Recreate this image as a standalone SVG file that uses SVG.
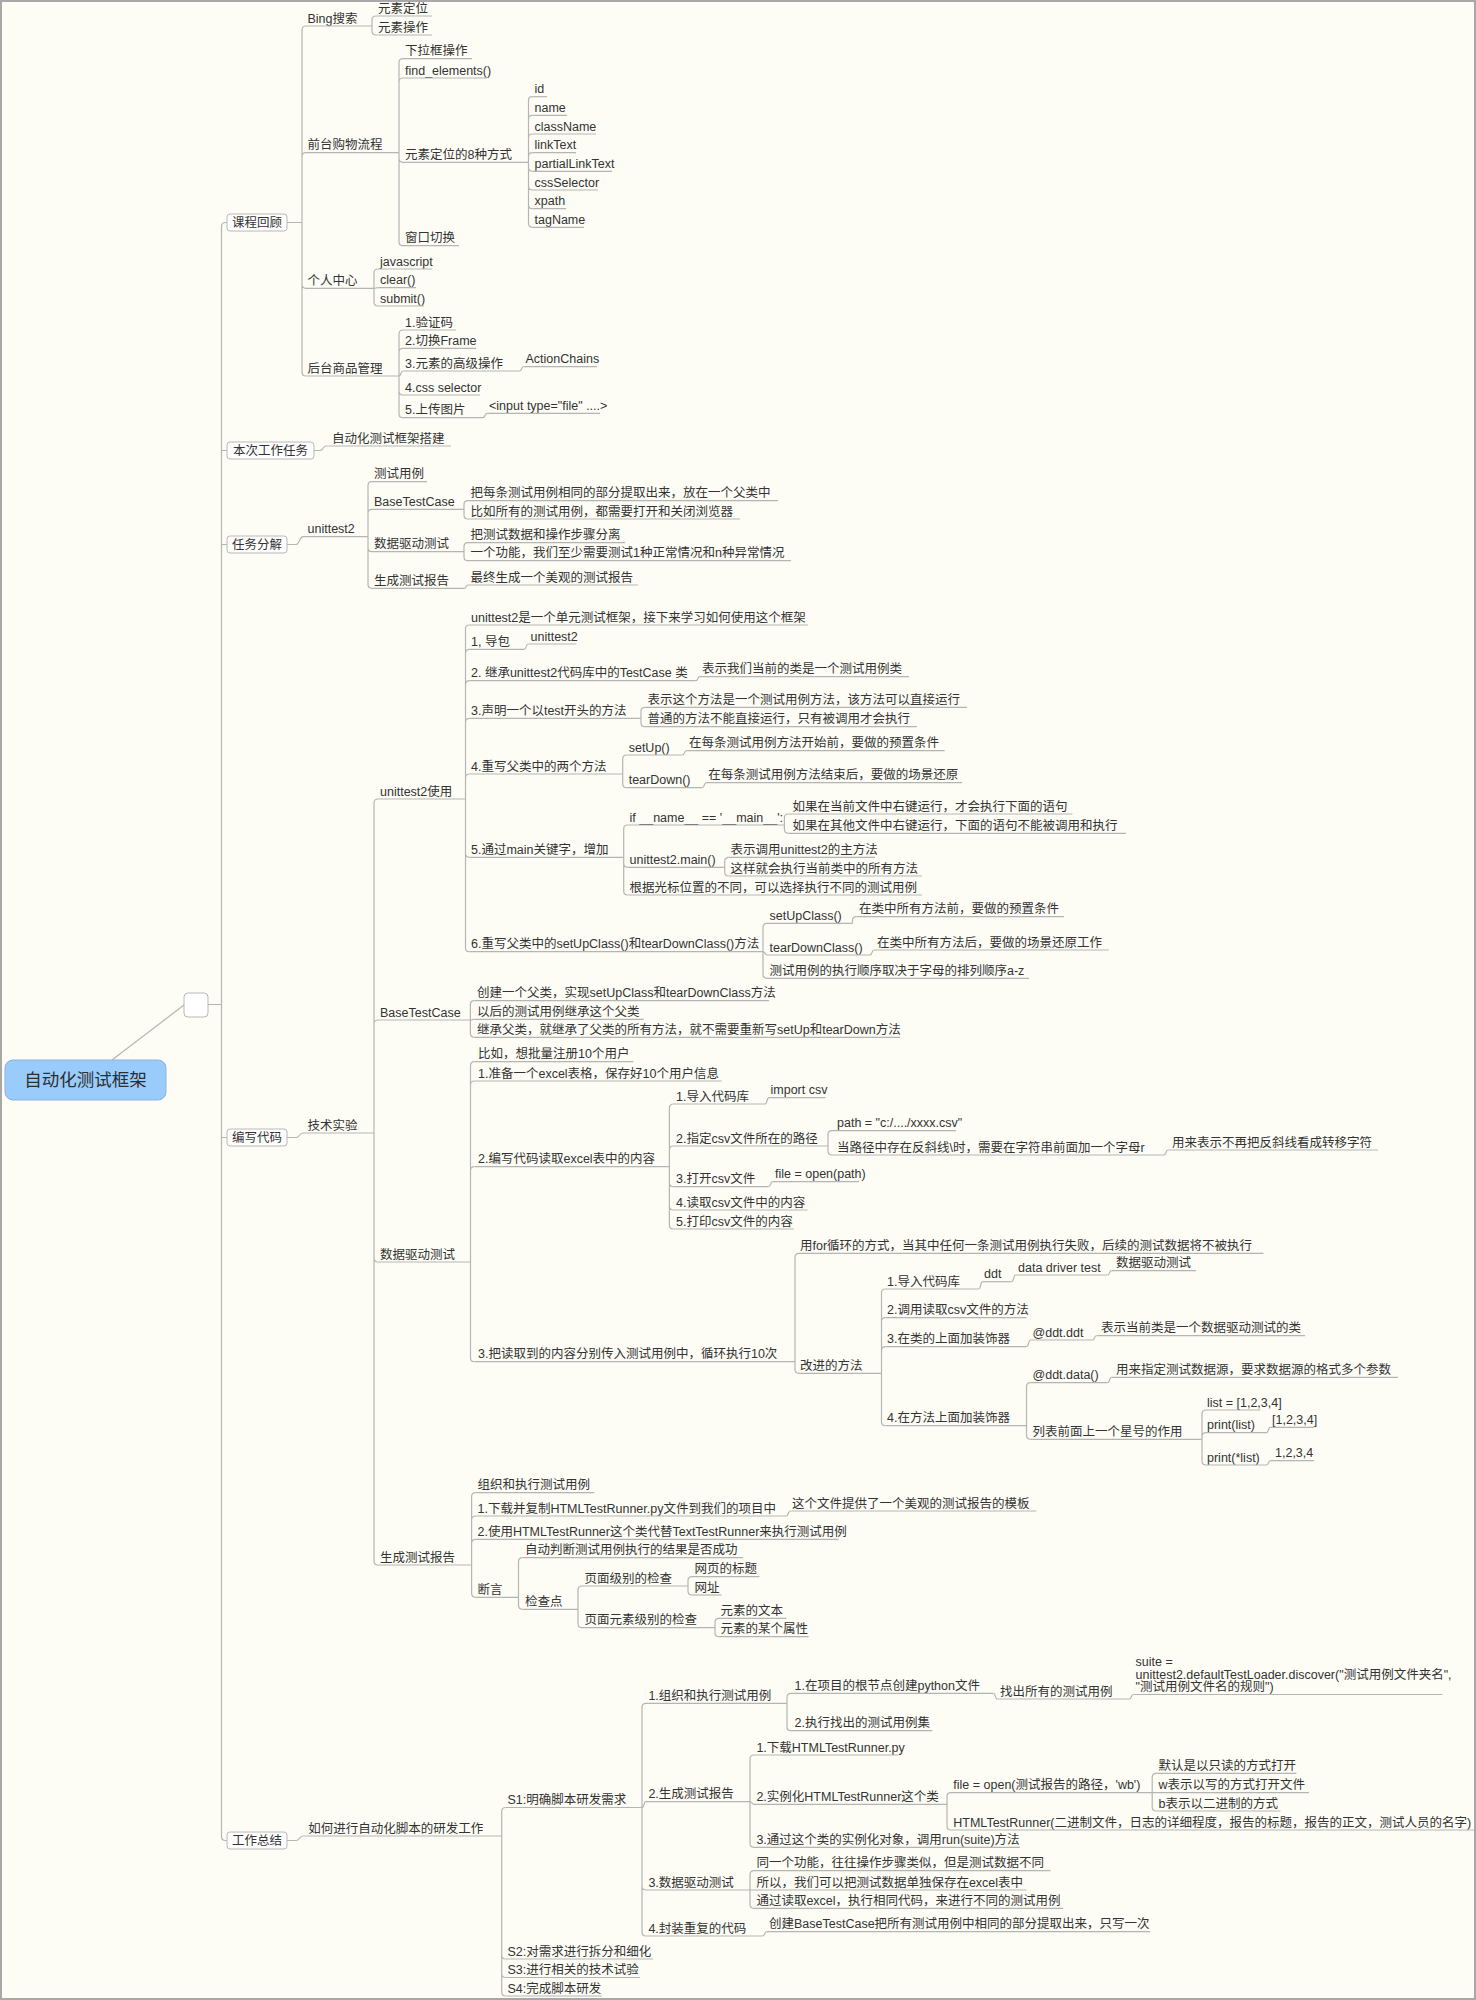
<svg xmlns="http://www.w3.org/2000/svg" width="1476" height="2000" viewBox="0 0 1476 2000">
<style>
text{font-family:"Liberation Sans","Noto Sans CJK SC",sans-serif;font-size:12.5px;fill:#333}
.n path,.c path{fill:none;stroke:#b5b5b5;stroke-width:1.2}
.box rect{fill:#fefefe;stroke:#b8b8b8;stroke-width:1}
.box text{text-anchor:middle}
</style>
<rect x="0" y="0" width="1476" height="2000" fill="#fdfdf6"/>
<rect x="1" y="1" width="1474" height="1998" fill="none" stroke="#a8a8a8" stroke-width="2"/>

<g class="c" id="connectors">
<path d="M112 1060L184 1005M208 1004.5H221.5"/>
<path d="M227 222.5H225.5Q221.5 222.5 221.5 226.5V1836.5Q221.5 1840.5 225.5 1840.5H227M221.5 450.5H227M221.5 544.5H227M221.5 1137.5H227"/>
<path d="M287 222.5H302M302 222.5V30Q302 26 306 26M302 222.5V156.7Q302 152.7 306 152.7M302 222.5V284.3Q302 288.3 306 288.3M302 222.5V372Q302 376 306 376"/>
<path d="M372 26V20Q372 16 376 16M372 26V31Q372 35 376 35"/>
<path d="M399 152.7V62.7Q399 58.7 403 58.7M399 152.7V82Q399 78 403 78M399 152.7V158.3Q399 162.3 403 162.3M399 152.7V241.7Q399 245.7 403 245.7"/>
<path d="M528.5 162.3V100.7Q528.5 96.7 532.5 96.7M528.5 162.3V119.3Q528.5 115.3 532.5 115.3M528.5 162.3V138Q528.5 134 532.5 134M528.5 162.3V156.7Q528.5 152.7 532.5 152.7M528.5 162.3V167.3Q528.5 171.3 532.5 171.3M528.5 162.3V186Q528.5 190 532.5 190M528.5 162.3V204.7Q528.5 208.7 532.5 208.7M528.5 162.3V223.3Q528.5 227.3 532.5 227.3"/>
<path d="M374 288.3V273Q374 269 378 269M374 288.3C376 288.3 376 287.7 378 287.7M374 288.3V302Q374 306 378 306"/>
<path d="M399 376V334Q399 330 403 330M399 376V352.3Q399 348.3 403 348.3M399 376C401.5 376 400.5 371 403 371M399 376V391Q399 395 403 395M399 376V413.7Q399 417.7 403 417.7"/>
<path d="M519.5 371C522 371 521 366.7 523.5 366.7M483 417.7C485.5 417.7 484.5 413.3 487 413.3"/>
<path d="M314 450.5H320C324 450.5 322 446 326 446"/>
<path d="M287 544.5H296C300 544.5 299 536.7 303 536.7"/>
<path d="M368 536.7V485.7Q368 481.7 372 481.7M368 536.7V513.3Q368 509.3 372 509.3M368 536.7V547.7Q368 551.7 372 551.7M368 536.7V584.3Q368 588.3 372 588.3"/>
<path d="M464 509.3V504.7Q464 500.7 468 500.7M464 509.3V515Q464 519 468 519M464 551.7V546.7Q464 542.7 468 542.7M464 551.7V556.7Q464 560.7 468 560.7M464 588.3C466.5 588.3 465.5 585 468 585"/>
<path d="M287 1137.5H296C300 1137.5 299 1133 303 1133"/>
<path d="M374 1133V803Q374 799 378 799M374 1133V1024Q374 1020 378 1020M374 1133V1258Q374 1262 378 1262M374 1133V1561Q374 1565 378 1565"/>
<path d="M465.5 799V629Q465.5 625 469.5 625M465.5 799V653.3Q465.5 649.3 469.5 649.3M465.5 799V684.7Q465.5 680.7 469.5 680.7M465.5 799V722.3Q465.5 718.3 469.5 718.3M465.5 799V778Q465.5 774 469.5 774M465.5 799V853.3Q465.5 857.3 469.5 857.3M465.5 799V947.7Q465.5 951.7 469.5 951.7"/>
<path d="M524.2 649.3C526.7 649.3 525.7 644 528.2 644M695.8 680.7C698.3 680.7 697.3 676.7 699.8 676.7"/>
<path d="M641 718.3V711.3Q641 707.3 645 707.3M641 718.3V722.7Q641 726.7 645 726.7"/>
<path d="M622.7 774V759Q622.7 755 626.7 755M622.7 774V783.7Q622.7 787.7 626.7 787.7M682.4 755C684.9 755 683.9 750.7 686.4 750.7M702.3 787.7C704.8 787.7 703.8 782.7 706.3 782.7"/>
<path d="M623.7 857.3V829Q623.7 825 627.7 825M623.7 857.3V863.3Q623.7 867.3 627.7 867.3M623.7 857.3V891Q623.7 895 627.7 895"/>
<path d="M784.4 825V818Q784.4 814 788.4 814M784.4 825V829.3Q784.4 833.3 788.4 833.3M724.7 867.3V861.3Q724.7 857.3 728.7 857.3M724.7 867.3V872Q724.7 876 728.7 876"/>
<path d="M763 951.7V927.3Q763 923.3 767 923.3M763 951.7C765.5 951.7 764.5 955 767 955M763 951.7V974.3Q763 978.3 767 978.3M852.5 923.3V920.7Q852.5 916.7 856.5 916.7M870 955C872.5 955 871.5 950 874 950"/>
<path d="M470.4 1020V1004.7Q470.4 1000.7 474.4 1000.7M470.4 1020C472.4 1020 472.4 1019.3 474.4 1019.3M470.4 1020V1033.3Q470.4 1037.3 474.4 1037.3"/>
<path d="M470.5 1262V1065.7Q470.5 1061.7 474.5 1061.7M470.5 1262V1085Q470.5 1081 474.5 1081M470.5 1262V1170.7Q470.5 1166.7 474.5 1166.7M470.5 1262V1357.7Q470.5 1361.7 474.5 1361.7"/>
<path d="M669.4 1166.7V1108Q669.4 1104 673.4 1104M669.4 1166.7V1150Q669.4 1146 673.4 1146M669.4 1166.7V1182.7Q669.4 1186.7 673.4 1186.7M669.4 1166.7V1206Q669.4 1210 673.4 1210M669.4 1166.7V1225Q669.4 1229 673.4 1229"/>
<path d="M765 1104C767.5 1104 766.5 1097.7 769 1097.7M828 1146V1134.7Q828 1130.7 832 1130.7M828 1146V1151Q828 1155 832 1155M1164 1155C1166.5 1155 1165.5 1150 1168 1150M768.6 1186.7C771.1 1186.7 770.1 1181.7 772.6 1181.7"/>
<path d="M795 1361.7V1257.3Q795 1253.3 799 1253.3M795 1361.7V1369.3Q795 1373.3 799 1373.3"/>
<path d="M881.5 1373.3V1293Q881.5 1289 885.5 1289M881.5 1373.3V1321.7Q881.5 1317.7 885.5 1317.7M881.5 1373.3V1350.7Q881.5 1346.7 885.5 1346.7M881.5 1373.3V1421.7Q881.5 1425.7 885.5 1425.7"/>
<path d="M978.6 1289C981.1 1289 980.1 1281.7 982.6 1281.7M1011.6 1281.7C1014.1 1281.7 1013.1 1275 1015.6 1275M1107.5 1275C1110 1275 1109 1270.7 1111.5 1270.7M1026.5 1346.7C1029 1346.7 1028 1340 1030.5 1340M1092.5 1340C1095 1340 1094 1335.7 1096.5 1335.7"/>
<path d="M1026.5 1425.7V1386.7Q1026.5 1382.7 1030.5 1382.7M1026.5 1425.7V1435.3Q1026.5 1439.3 1030.5 1439.3M1107.5 1382.7C1110 1382.7 1109 1377.3 1111.5 1377.3"/>
<path d="M1202 1439.3V1414Q1202 1410 1206 1410M1202 1439.3V1436.7Q1202 1432.7 1206 1432.7M1202 1439.3V1461Q1202 1465 1206 1465M1266.4 1432.7C1268.9 1432.7 1267.9 1427.3 1270.4 1427.3M1266.4 1465C1268.9 1465 1267.9 1460.7 1270.4 1460.7"/>
<path d="M471.6 1565V1496.7Q471.6 1492.7 475.6 1492.7M471.6 1565V1520Q471.6 1516 475.6 1516M471.6 1565V1543.3Q471.6 1539.3 475.6 1539.3M471.6 1565V1593.3Q471.6 1597.3 475.6 1597.3M786.3 1516C788.8 1516 787.8 1511 790.3 1511"/>
<path d="M518.5 1597.3V1561.7Q518.5 1557.7 522.5 1557.7M518.5 1597.3V1605.3Q518.5 1609.3 522.5 1609.3M578 1609.3V1590Q578 1586 582 1586M578 1609.3V1623.7Q578 1627.7 582 1627.7"/>
<path d="M688 1586V1580.7Q688 1576.7 692 1576.7M688 1586V1591Q688 1595 692 1595M715 1627.7V1622.3Q715 1618.3 719 1618.3M715 1627.7V1632.7Q715 1636.7 719 1636.7"/>
<path d="M287 1840.5H296C300 1840.5 299 1836 303 1836"/>
<path d="M501.7 1836V1811.5Q501.7 1807.5 505.7 1807.5M501.7 1836V1955Q501.7 1959 505.7 1959M501.7 1836V1973.5Q501.7 1977.5 505.7 1977.5M501.7 1836V1992Q501.7 1996 505.7 1996"/>
<path d="M642 1807.5V1707.3Q642 1703.3 646 1703.3M642 1807.5C644.5 1807.5 643.5 1801.7 646 1801.7M642 1807.5V1886Q642 1890 646 1890M642 1807.5V1932Q642 1936 646 1936"/>
<path d="M787 1703.3V1697.3Q787 1693.3 791 1693.3M787 1703.3V1726.7Q787 1730.7 791 1730.7M993.3 1693.3C995.8 1693.3 994.8 1699 997.3 1699M1129.3 1699C1131.8 1699 1130.8 1694.5 1133.3 1694.5"/>
<path d="M750 1801.7V1759Q750 1755 754 1755M750 1801.7C752 1801.7 752 1804.3 754 1804.3M750 1801.7V1843.3Q750 1847.3 754 1847.3"/>
<path d="M947 1804.3V1796.7Q947 1792.7 951 1792.7M947 1804.3V1826Q947 1830 951 1830M1152.2 1792.7V1777.3Q1152.2 1773.3 1156.2 1773.3M1152.2 1792.7H1156.2M1152.2 1792.7V1807Q1152.2 1811 1156.2 1811"/>
<path d="M750 1890V1874.7Q750 1870.7 754 1870.7M750 1890H754M750 1890V1904.3Q750 1908.3 754 1908.3M762.7 1936C765.2 1936 764.2 1931.7 766.7 1931.7"/>
</g>

<g id="root"><rect x="5" y="1060" width="161" height="40" rx="8" fill="#99ccfb" stroke="#8ab3dc"/><text x="85.5" y="1086" text-anchor="middle" style="font-size:17.5px;fill:#2e2e2e">自动化测试框架</text></g>
<g id="hub"><rect x="184" y="993" width="24" height="24" rx="4" fill="#fff" stroke="#b8b8b8"/></g>

<g id="b1" class="box"><rect x="227" y="214" width="60" height="17" rx="3"/><text x="257" y="227">课程回顾</text></g>
<g id="b2" class="box"><rect x="227" y="442" width="87" height="17" rx="3"/><text x="270.5" y="455">本次工作任务</text></g>
<g id="b3" class="box"><rect x="227" y="536" width="60" height="17" rx="3"/><text x="257" y="549">任务分解</text></g>
<g id="b4" class="box"><rect x="227" y="1129" width="60" height="17" rx="3"/><text x="257" y="1142">编写代码</text></g>
<g id="b5" class="box"><rect x="227" y="1832" width="60" height="17" rx="3"/><text x="257" y="1845">工作总结</text></g>

<g id="n001" class="n"><text x="307.5" y="22.5">Bing搜索</text><path d="M306 26H372"/></g>
<g id="n002" class="n"><text x="307.5" y="149.2">前台购物流程</text><path d="M306 152.7H399"/></g>
<g id="n003" class="n"><text x="307.5" y="284.8">个人中心</text><path d="M306 288.3H374"/></g>
<g id="n004" class="n"><text x="307.5" y="372.5">后台商品管理</text><path d="M306 376H399"/></g>
<g id="n005" class="n"><text x="378" y="12.5">元素定位</text><path d="M376 16H432"/></g>
<g id="n006" class="n"><text x="378" y="31.5">元素操作</text><path d="M376 35H432"/></g>
<g id="n007" class="n"><text x="405" y="55.2">下拉框操作</text><path d="M403 58.7H472"/></g>
<g id="n008" class="n"><text x="405" y="74.5">find_elements()</text><path d="M403 78H487"/></g>
<g id="n009" class="n"><text x="405" y="158.8">元素定位的8种方式</text><path d="M403 162.3H528.5"/></g>
<g id="n010" class="n"><text x="405" y="242.2">窗口切换</text><path d="M403 245.7H459"/></g>
<g id="n011" class="n"><text x="534.5" y="93.2">id</text><path d="M532.5 96.7H547"/></g>
<g id="n012" class="n"><text x="534.5" y="111.8">name</text><path d="M532.5 115.3H567"/></g>
<g id="n013" class="n"><text x="534.5" y="130.5">className</text><path d="M532.5 134H596"/></g>
<g id="n014" class="n"><text x="534.5" y="149.2">linkText</text><path d="M532.5 152.7H576"/></g>
<g id="n015" class="n"><text x="534.5" y="167.8">partialLinkText</text><path d="M532.5 171.3H612"/></g>
<g id="n016" class="n"><text x="534.5" y="186.5">cssSelector</text><path d="M532.5 190H598"/></g>
<g id="n017" class="n"><text x="534.5" y="205.2">xpath</text><path d="M532.5 208.7H566"/></g>
<g id="n018" class="n"><text x="534.5" y="223.8">tagName</text><path d="M532.5 227.3H584"/></g>
<g id="n019" class="n"><text x="380" y="265.5">javascript</text><path d="M378 269H432"/></g>
<g id="n020" class="n"><text x="380" y="284.2">clear()</text><path d="M378 287.7H416"/></g>
<g id="n021" class="n"><text x="380" y="302.5">submit()</text><path d="M378 306H424"/></g>
<g id="n022" class="n"><text x="405" y="326.5">1.验证码</text><path d="M403 330H456"/></g>
<g id="n023" class="n"><text x="405" y="344.8">2.切换Frame</text><path d="M403 348.3H476"/></g>
<g id="n024" class="n"><text x="405" y="367.5">3.元素的高级操作</text><path d="M403 371H519.5"/></g>
<g id="n025" class="n"><text x="405" y="391.5">4.css selector</text><path d="M403 395H480"/></g>
<g id="n026" class="n"><text x="405" y="414.2">5.上传图片</text><path d="M403 417.7H483"/></g>
<g id="n027" class="n"><text x="525.5" y="363.2">ActionChains</text><path d="M523.5 366.7H597"/></g>
<g id="n028" class="n"><text x="489" y="409.8">&lt;input type="file" ....&gt;</text><path d="M487 413.3H600"/></g>

<g id="n029" class="n"><text x="332" y="442.5">自动化测试框架搭建</text><path d="M326 446H451"/></g>

<g id="n030" class="n"><text x="307.5" y="533.2">unittest2</text><path d="M303 536.7H368"/></g>
<g id="n031" class="n"><text x="374" y="478.2">测试用例</text><path d="M372 481.7H427"/></g>
<g id="n032" class="n"><text x="374" y="505.8">BaseTestCase</text><path d="M372 509.3H464"/></g>
<g id="n033" class="n"><text x="374" y="548.2">数据驱动测试</text><path d="M372 551.7H464"/></g>
<g id="n034" class="n"><text x="374" y="584.8">生成测试报告</text><path d="M372 588.3H464"/></g>
<g id="n035" class="n"><text x="470.5" y="497.2">把每条测试用例相同的部分提取出来，放在一个父类中</text><path d="M468 500.7H778"/></g>
<g id="n036" class="n"><text x="470.5" y="515.5">比如所有的测试用例，都需要打开和关闭浏览器</text><path d="M468 519H740"/></g>
<g id="n037" class="n"><text x="470.5" y="539.2">把测试数据和操作步骤分离</text><path d="M468 542.7H625"/></g>
<g id="n038" class="n"><text x="470.5" y="557.2">一个功能，我们至少需要测试1种正常情况和n种异常情况</text><path d="M468 560.7H791"/></g>
<g id="n039" class="n"><text x="470.5" y="581.5">最终生成一个美观的测试报告</text><path d="M468 585H638"/></g>

<g id="n040" class="n"><text x="307.5" y="1129.5">技术实验</text><path d="M303 1133H374"/></g>
<g id="n041" class="n"><text x="380" y="795.5">unittest2使用</text><path d="M378 799H465.5"/></g>
<g id="n042" class="n"><text x="380" y="1016.5">BaseTestCase</text><path d="M378 1020H470.4"/></g>
<g id="n043" class="n"><text x="380" y="1258.5">数据驱动测试</text><path d="M378 1262H470.5"/></g>
<g id="n044" class="n"><text x="380" y="1561.5">生成测试报告</text><path d="M378 1565H471.6"/></g>

<g id="n045" class="n"><text x="471" y="621.5">unittest2是一个单元测试框架，接下来学习如何使用这个框架</text><path d="M469.5 625H808"/></g>
<g id="n046" class="n"><text x="471" y="645.8">1, 导包</text><path d="M469.5 649.3H524.2"/></g>
<g id="n047" class="n"><text x="471" y="677.2">2. 继承unittest2代码库中的TestCase 类</text><path d="M469.5 680.7H695.8"/></g>
<g id="n048" class="n"><text x="471" y="714.8">3.声明一个以test开头的方法</text><path d="M469.5 718.3H641"/></g>
<g id="n049" class="n"><text x="471" y="770.5">4.重写父类中的两个方法</text><path d="M469.5 774H622.7"/></g>
<g id="n050" class="n"><text x="471" y="853.8">5.通过main关键字，增加</text><path d="M469.5 857.3H623.7"/></g>
<g id="n051" class="n"><text x="471" y="948.2">6.重写父类中的setUpClass()和tearDownClass()方法</text><path d="M469.5 951.7H763"/></g>
<g id="n052" class="n"><text x="530.5" y="640.5">unittest2</text><path d="M528.2 644H576.4"/></g>
<g id="n053" class="n"><text x="702" y="673.2">表示我们当前的类是一个测试用例类</text><path d="M699.8 676.7H909"/></g>
<g id="n054" class="n"><text x="647.5" y="703.8">表示这个方法是一个测试用例方法，该方法可以直接运行</text><path d="M645 707.3H967"/></g>
<g id="n055" class="n"><text x="647.5" y="723.2">普通的方法不能直接运行，只有被调用才会执行</text><path d="M645 726.7H917"/></g>
<g id="n056" class="n"><text x="628.7" y="751.5">setUp()</text><path d="M626.7 755H682.4"/></g>
<g id="n057" class="n"><text x="628.7" y="784.2">tearDown()</text><path d="M626.7 787.7H702.3"/></g>
<g id="n058" class="n"><text x="689" y="747.2">在每条测试用例方法开始前，要做的预置条件</text><path d="M686.4 750.7H944.6"/></g>
<g id="n059" class="n"><text x="708.3" y="779.2">在每条测试用例方法结束后，要做的场景还原</text><path d="M706.3 782.7H962"/></g>
<g id="n060" class="n"><text x="629.5" y="821.5">if __name__ == '__main__':</text><path d="M627.7 825H784.4"/></g>
<g id="n061" class="n"><text x="629.5" y="863.8">unittest2.main()</text><path d="M627.7 867.3H724.7"/></g>
<g id="n062" class="n"><text x="629.5" y="891.5">根据光标位置的不同，可以选择执行不同的测试用例</text><path d="M627.7 895H922"/></g>
<g id="n063" class="n"><text x="792.5" y="810.5">如果在当前文件中右键运行，才会执行下面的语句</text><path d="M788.4 814H1072.4"/></g>
<g id="n064" class="n"><text x="792.5" y="829.8">如果在其他文件中右键运行，下面的语句不能被调用和执行</text><path d="M788.4 833.3H1126"/></g>
<g id="n065" class="n"><text x="730.5" y="853.8">表示调用unittest2的主方法</text><path d="M728.7 857.3H875"/></g>
<g id="n066" class="n"><text x="730.5" y="872.5">这样就会执行当前类中的所有方法</text><path d="M728.7 876H922"/></g>
<g id="n067" class="n"><text x="769.5" y="919.8">setUpClass()</text><path d="M767 923.3H852.5"/></g>
<g id="n068" class="n"><text x="769.5" y="951.5">tearDownClass()</text><path d="M767 955H870"/></g>
<g id="n069" class="n"><text x="769.5" y="974.8">测试用例的执行顺序取决于字母的排列顺序a-z</text><path d="M767 978.3H1029"/></g>
<g id="n070" class="n"><text x="859" y="913.2">在类中所有方法前，要做的预置条件</text><path d="M856.5 916.7H1064"/></g>
<g id="n071" class="n"><text x="877" y="946.5">在类中所有方法后，要做的场景还原工作</text><path d="M874 950H1108.7"/></g>

<g id="n072" class="n"><text x="477" y="997.2">创建一个父类，实现setUpClass和tearDownClass方法</text><path d="M474.4 1000.7H769"/></g>
<g id="n073" class="n"><text x="477" y="1015.8">以后的测试用例继承这个父类</text><path d="M474.4 1019.3H643.6"/></g>
<g id="n074" class="n"><text x="477" y="1033.8">继承父类，就继承了父类的所有方法，就不需要重新写setUp和tearDown方法</text><path d="M474.4 1037.3H900"/></g>

<g id="n075" class="n"><text x="478" y="1058.2">比如，想批量注册10个用户</text><path d="M474.5 1061.7H633.3"/></g>
<g id="n076" class="n"><text x="478" y="1077.5">1.准备一个excel表格，保存好10个用户信息</text><path d="M474.5 1081H721.7"/></g>
<g id="n077" class="n"><text x="478" y="1163.2">2.编写代码读取excel表中的内容</text><path d="M474.5 1166.7H669.4"/></g>
<g id="n078" class="n"><text x="478" y="1358.2">3.把读取到的内容分别传入测试用例中，循环执行10次</text><path d="M474.5 1361.7H795"/></g>
<g id="n079" class="n"><text x="676" y="1100.5">1.导入代码库</text><path d="M673.4 1104H765"/></g>
<g id="n080" class="n"><text x="676" y="1142.5">2.指定csv文件所在的路径</text><path d="M673.4 1146H828"/></g>
<g id="n081" class="n"><text x="676" y="1183.2">3.打开csv文件</text><path d="M673.4 1186.7H768.6"/></g>
<g id="n082" class="n"><text x="676" y="1206.5">4.读取csv文件中的内容</text><path d="M673.4 1210H807.4"/></g>
<g id="n083" class="n"><text x="676" y="1225.5">5.打印csv文件的内容</text><path d="M673.4 1229H794"/></g>
<g id="n084" class="n"><text x="770.5" y="1094.2">import csv</text><path d="M769 1097.7H825.5"/></g>
<g id="n085" class="n"><text x="837" y="1127.2">path = "c:/..../xxxx.csv"</text><path d="M832 1130.7H956"/></g>
<g id="n086" class="n"><text x="837" y="1151.5">当路径中存在反斜线\时，需要在字符串前面加一个字母r</text><path d="M832 1155H1164"/></g>
<g id="n087" class="n"><text x="1172" y="1146.5">用来表示不再把反斜线看成转移字符</text><path d="M1168 1150H1378"/></g>
<g id="n088" class="n"><text x="775" y="1178.2">file = open(path)</text><path d="M772.6 1181.7H859"/></g>
<g id="n089" class="n"><text x="800" y="1249.8">用for循环的方式，当其中任何一条测试用例执行失败，后续的测试数据将不被执行</text><path d="M799 1253.3H1263.4"/></g>
<g id="n090" class="n"><text x="800" y="1369.8">改进的方法</text><path d="M799 1373.3H881.5"/></g>
<g id="n091" class="n"><text x="887" y="1285.5">1.导入代码库</text><path d="M885.5 1289H978.6"/></g>
<g id="n092" class="n"><text x="887" y="1314.2">2.调用读取csv文件的方法</text><path d="M885.5 1317.7H1026.5"/></g>
<g id="n093" class="n"><text x="887" y="1343.2">3.在类的上面加装饰器</text><path d="M885.5 1346.7H1026.5"/></g>
<g id="n094" class="n"><text x="887" y="1422.2">4.在方法上面加装饰器</text><path d="M885.5 1425.7H1026.5"/></g>
<g id="n095" class="n"><text x="984" y="1278.2">ddt</text><path d="M982.6 1281.7H1011.6"/></g>
<g id="n096" class="n"><text x="1018" y="1271.5">data driver test</text><path d="M1015.6 1275H1107.5"/></g>
<g id="n097" class="n"><text x="1116" y="1267.2">数据驱动测试</text><path d="M1111.5 1270.7H1196"/></g>
<g id="n098" class="n"><text x="1032.5" y="1336.5">@ddt.ddt</text><path d="M1030.5 1340H1092.5"/></g>
<g id="n099" class="n"><text x="1101" y="1332.2">表示当前类是一个数据驱动测试的类</text><path d="M1096.5 1335.7H1305"/></g>
<g id="n100" class="n"><text x="1032.5" y="1379.2">@ddt.data()</text><path d="M1030.5 1382.7H1107.5"/></g>
<g id="n101" class="n"><text x="1116" y="1373.8">用来指定测试数据源，要求数据源的格式多个参数</text><path d="M1111.5 1377.3H1398"/></g>
<g id="n102" class="n"><text x="1032.5" y="1435.8">列表前面上一个星号的作用</text><path d="M1030.5 1439.3H1202"/></g>
<g id="n103" class="n"><text x="1207" y="1406.5">list = [1,2,3,4]</text><path d="M1206 1410H1260.4"/></g>
<g id="n104" class="n"><text x="1207" y="1429.2">print(list)</text><path d="M1206 1432.7H1266.4"/></g>
<g id="n105" class="n"><text x="1207" y="1461.5">print(*list)</text><path d="M1206 1465H1266.4"/></g>
<g id="n106" class="n"><text x="1272" y="1423.8">[1,2,3,4]</text><path d="M1270.4 1427.3H1314"/></g>
<g id="n107" class="n"><text x="1275" y="1457.2">1,2,3,4</text><path d="M1270.4 1460.7H1314"/></g>

<g id="n108" class="n"><text x="477.5" y="1489.2">组织和执行测试用例</text><path d="M475.6 1492.7H594.4"/></g>
<g id="n109" class="n"><text x="477.5" y="1512.5">1.下载并复制HTMLTestRunner.py文件到我们的项目中</text><path d="M475.6 1516H786.3"/></g>
<g id="n110" class="n"><text x="477.5" y="1535.8">2.使用HTMLTestRunner这个类代替TextTestRunner来执行测试用例</text><path d="M475.6 1539.3H838.6"/></g>
<g id="n111" class="n"><text x="477.5" y="1593.8">断言</text><path d="M475.6 1597.3H518.5"/></g>
<g id="n112" class="n"><text x="792" y="1507.5">这个文件提供了一个美观的测试报告的模板</text><path d="M790.3 1511H1036.3"/></g>
<g id="n113" class="n"><text x="525" y="1554.2">自动判断测试用例执行的结果是否成功</text><path d="M522.5 1557.7H743"/></g>
<g id="n114" class="n"><text x="525" y="1605.8">检查点</text><path d="M522.5 1609.3H578"/></g>
<g id="n115" class="n"><text x="584.5" y="1582.5">页面级别的检查</text><path d="M582 1586H688"/></g>
<g id="n116" class="n"><text x="584.5" y="1624.2">页面元素级别的检查</text><path d="M582 1627.7H715"/></g>
<g id="n117" class="n"><text x="694.5" y="1573.2">网页的标题</text><path d="M692 1576.7H759.5"/></g>
<g id="n118" class="n"><text x="694.5" y="1591.5">网址</text><path d="M692 1595H721.6"/></g>
<g id="n119" class="n"><text x="720.5" y="1614.8">元素的文本</text><path d="M719 1618.3H786.3"/></g>
<g id="n120" class="n"><text x="720.5" y="1633.2">元素的某个属性</text><path d="M719 1636.7H808.7"/></g>

<g id="n121" class="n"><text x="308.3" y="1832.5">如何进行自动化脚本的研发工作</text><path d="M303 1836H501.7"/></g>
<g id="n122" class="n"><text x="507.5" y="1804">S1:明确脚本研发需求</text><path d="M505.7 1807.5H642"/></g>
<g id="n123" class="n"><text x="507.5" y="1955.5">S2:对需求进行拆分和细化</text><path d="M505.7 1959H653"/></g>
<g id="n124" class="n"><text x="507.5" y="1974">S3:进行相关的技术试验</text><path d="M505.7 1977.5H640"/></g>
<g id="n125" class="n"><text x="507.5" y="1992.5">S4:完成脚本研发</text><path d="M505.7 1996H602"/></g>
<g id="n126" class="n"><text x="648.4" y="1699.8">1.组织和执行测试用例</text><path d="M646 1703.3H787"/></g>
<g id="n127" class="n"><text x="648.4" y="1798.2">2.生成测试报告</text><path d="M646 1801.7H750"/></g>
<g id="n128" class="n"><text x="648.4" y="1886.5">3.数据驱动测试</text><path d="M646 1890H750"/></g>
<g id="n129" class="n"><text x="648.4" y="1932.5">4.封装重复的代码</text><path d="M646 1936H762.7"/></g>
<g id="n130" class="n"><text x="794.5" y="1689.8">1.在项目的根节点创建python文件</text><path d="M791 1693.3H993.3"/></g>
<g id="n131" class="n"><text x="794.5" y="1727.2">2.执行找出的测试用例集</text><path d="M791 1730.7H932.3"/></g>
<g id="n132" class="n"><text x="1000" y="1695.5">找出所有的测试用例</text><path d="M997.3 1699H1129.3"/></g>
<g id="n133" class="n"><text x="1135.6" y="1666">suite =</text><text x="1135.6" y="1678.5">unittest2.defaultTestLoader.discover("测试用例文件夹名",</text><text x="1135.6" y="1691">"测试用例文件名的规则")</text><path d="M1133.3 1694.5H1442.5"/></g>
<g id="n134" class="n"><text x="756.4" y="1751.5">1.下载HTMLTestRunner.py</text><path d="M754 1755H898"/></g>
<g id="n135" class="n"><text x="756.4" y="1800.8">2.实例化HTMLTestRunner这个类</text><path d="M754 1804.3H947"/></g>
<g id="n136" class="n"><text x="756.4" y="1843.8">3.通过这个类的实例化对象，调用run(suite)方法</text><path d="M754 1847.3H1020"/></g>
<g id="n137" class="n"><text x="953.3" y="1789.2">file = open(测试报告的路径，'wb')</text><path d="M951 1792.7H1152.2"/></g>
<g id="n138" class="n"><text x="953.3" y="1826.5">HTMLTestRunner(二进制文件，日志的详细程度，报告的标题，报告的正文，测试人员的名字)</text><path d="M951 1830H1474"/></g>
<g id="n139" class="n"><text x="1158.5" y="1769.8">默认是以只读的方式打开</text><path d="M1156.2 1773.3H1296.4"/></g>
<g id="n140" class="n"><text x="1158.5" y="1789.2">w表示以写的方式打开文件</text><path d="M1156.2 1792.7H1309"/></g>
<g id="n141" class="n"><text x="1158.5" y="1807.5">b表示以二进制的方式</text><path d="M1156.2 1811H1280.5"/></g>
<g id="n142" class="n"><text x="756.4" y="1867.2">同一个功能，往往操作步骤类似，但是测试数据不同</text><path d="M754 1870.7H1050.5"/></g>
<g id="n143" class="n"><text x="756.4" y="1886.5">所以，我们可以把测试数据单独保存在excel表中</text><path d="M754 1890H1026.4"/></g>
<g id="n144" class="n"><text x="756.4" y="1904.8">通过读取excel，执行相同代码，来进行不同的测试用例</text><path d="M754 1908.3H1063.2"/></g>
<g id="n145" class="n"><text x="769" y="1928.2">创建BaseTestCase把所有测试用例中相同的部分提取出来，只写一次</text><path d="M766.7 1931.7H1150.3"/></g>
</svg>
